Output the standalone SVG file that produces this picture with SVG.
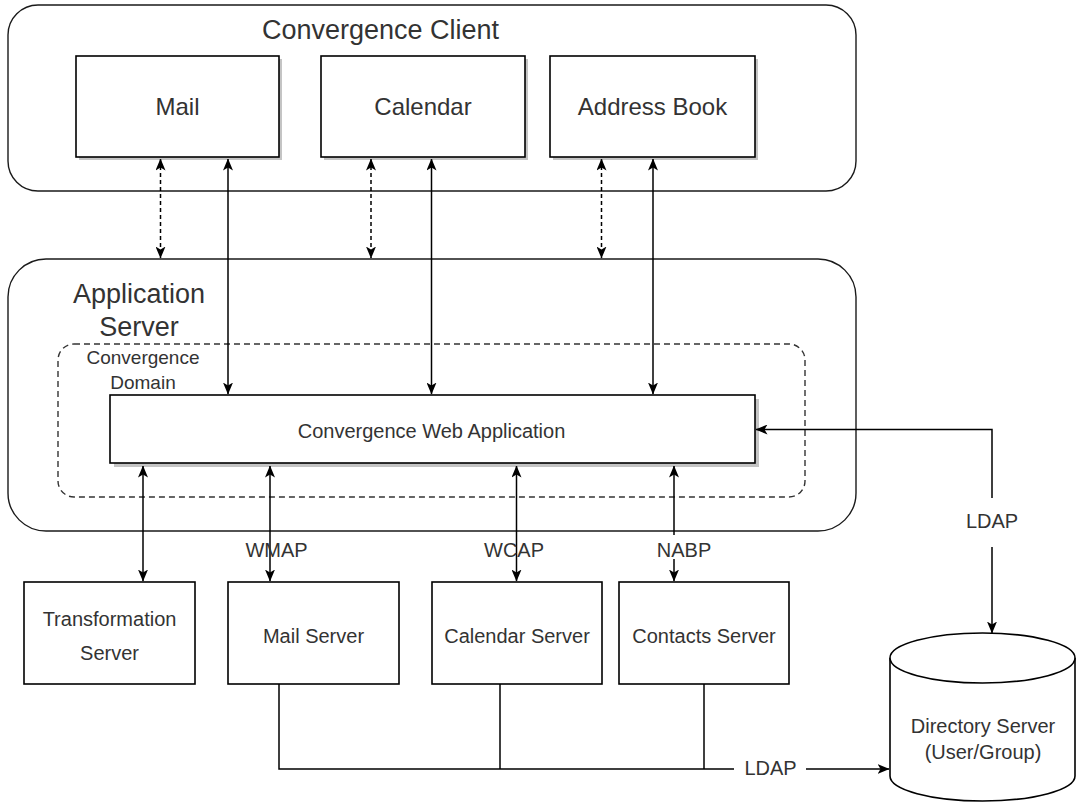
<svg xmlns="http://www.w3.org/2000/svg" width="1077" height="803" viewBox="0 0 1077 803">
<defs>
<marker id="arr" viewBox="0 0 12 10" refX="11.5" refY="5" markerWidth="12" markerHeight="10" markerUnits="userSpaceOnUse" orient="auto-start-reverse">
<path d="M0,0 L12,5 L0,10 L3,5 Z" fill="#000"/>
</marker>
</defs>
<style>
.cont{fill:#fff;stroke:#1a1a1a;stroke-width:1.4}
.box{fill:#fff;stroke:#000;stroke-width:1.6}
.shadow{fill:#c4c4c4}
.dom{fill:none;stroke:#333;stroke-width:1.4;stroke-dasharray:6 4}
.t{font-family:"Liberation Sans",Arial,sans-serif;fill:#333;text-anchor:middle}
.title{font-size:27px}
.big{font-size:24px}
.sm{font-size:20px}
.edge{fill:none;stroke:#000;stroke-width:1.5}
.dash{stroke-dasharray:4 3}
.ab{marker-start:url(#arr);marker-end:url(#arr)}
.ae{marker-end:url(#arr)}
.bg{fill:#fff}
</style>
<rect width="1077" height="803" fill="#fff"/>

<g id="client">
<rect class="cont" x="8" y="5" width="848" height="186" rx="30"/>
<text class="t title" x="380.5" y="39">Convergence Client</text>
</g>
<g id="mail">
<rect class="shadow" x="79" y="59" width="203" height="101"/>
<rect class="box" x="76" y="56" width="203" height="101"/>
<text class="t big" x="177.5" y="115">Mail</text>
</g>
<g id="calendar">
<rect class="shadow" x="324" y="59" width="204" height="101"/>
<rect class="box" x="321" y="56" width="204" height="101"/>
<text class="t big" x="423" y="115">Calendar</text>
</g>
<g id="addressbook">
<rect class="shadow" x="553" y="59" width="205" height="101"/>
<rect class="box" x="550" y="56" width="205" height="101"/>
<text class="t big" x="652.5" y="115">Address Book</text>
</g>

<g id="appserver">
<rect class="cont" x="8" y="259" width="848" height="272" rx="38"/>
<text class="t title" x="139" y="302.7">Application</text>
<text class="t title" x="139" y="336">Server</text>
</g>
<g id="domain">
<rect class="dom" x="58" y="344" width="747" height="153" rx="16"/>
<text class="t" style="font-size:19px" x="143" y="363.5">Convergence</text>
<text class="t" style="font-size:19px" x="143" y="388.5">Domain</text>
</g>
<g id="webapp">
<rect class="shadow" x="114" y="399" width="645" height="68"/>
<rect class="box" x="110" y="395" width="645" height="68"/>
<text class="t sm" x="431.5" y="438">Convergence Web Application</text>
</g>

<g id="transformation">
<rect class="box" x="24" y="582" width="171" height="102"/>
<text class="t sm" x="109.5" y="626">Transformation</text>
<text class="t sm" x="109.5" y="659.5">Server</text>
</g>
<g id="mailserver">
<rect class="box" x="228" y="582" width="171" height="102"/>
<text class="t sm" x="313.5" y="643">Mail Server</text>
</g>
<g id="calendarserver">
<rect class="box" x="432" y="582" width="170" height="102"/>
<text class="t sm" x="517" y="643">Calendar Server</text>
</g>
<g id="contactsserver">
<rect class="box" x="619" y="582" width="170" height="102"/>
<text class="t sm" x="704" y="643">Contacts Server</text>
</g>
<g id="directory">
<path class="box" d="M890,658 A92.5,25 0 0 1 1075,658 V776 A92.5,25 0 0 1 890,776 Z"/>
<path class="box" d="M890,658 A92.5,25 0 0 0 1075,658" fill="none"/>
<text class="t sm" x="983" y="733">Directory Server</text>
<text class="t sm" x="983" y="759">(User/Group)</text>
</g>

<g id="connectors">
<path class="edge dash ab" d="M160.5,159 V258"/>
<path class="edge ab" d="M228,159 V394"/>
<path class="edge dash ab" d="M371,159 V258"/>
<path class="edge ab" d="M431.5,159 V394"/>
<path class="edge dash ab" d="M601.5,159 V258"/>
<path class="edge ab" d="M653,159 V394"/>
<path class="edge ab" d="M143,466 V581"/>
<path class="edge ab" d="M270,466 V581"/>
<path class="edge ab" d="M516.5,466 V581"/>
<path class="edge ab" d="M674,466 V581"/>
<path class="edge ab" d="M992,633 V429.5 H756"/>
<path class="edge ae" d="M279,684 V769 H889"/>
<path class="edge" d="M500,684 V769"/>
<path class="edge" d="M704,684 V769"/>
<text class="t sm" x="276.5" y="557">WMAP</text>
<text class="t sm" x="514" y="557">WCAP</text>
<rect class="bg" x="655" y="535" width="58" height="24"/>
<text class="t sm" x="684" y="557">NABP</text>
<rect class="bg" x="962" y="498" width="60" height="49"/>
<text class="t sm" x="992" y="528">LDAP</text>
<rect class="bg" x="734" y="758" width="72" height="22"/>
<text class="t sm" x="770.5" y="775">LDAP</text>
</g>
</svg>
